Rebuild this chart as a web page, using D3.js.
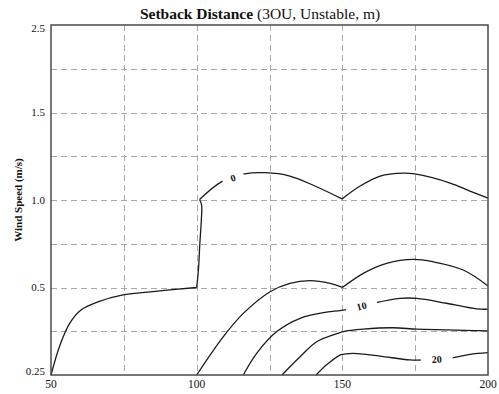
<!DOCTYPE html>
<html>
<head>
<meta charset="utf-8">
<script src="https://cdn.jsdelivr.net/npm/d3@7"></script>
<style>
  body { margin: 0; background: #fff; }
  text { font-family: "Liberation Serif", "Times New Roman", serif; fill: #111; }
</style>
</head>
<body>
<svg id="chart" width="499" height="394"></svg>
<script>
// Axis definitions
const xTicks = [50, 100, 150, 200];
const xGrid = [75, 100, 125, 150, 175];
const yTicks = [0.25, 0.5, 1.0, 1.5, 2.5];
const yTickLabels = ["0.25", "0.5", "1.0", "1.5", "2.5"];
const yGrid = [0.375, 0.5, 0.75, 1.0, 1.25, 1.5, 2.0];

// Contour lines: [distance, wind speed]
const contour0 = [
  [50, 0.25], [53.1, 0.336], [56.5, 0.399], [60.3, 0.436], [66.1, 0.459],
  [74.7, 0.479], [83.3, 0.487], [100, 0.50], [100.6, 0.60], [101.1, 0.754],
  [101.6, 0.886], [101.7, 0.971], [101.0, 1.003], [108.6, 1.105], [116.4, 1.149],
  [123.5, 1.156], [132.0, 1.137], [140.6, 1.08], [149.9, 1.006], [156.1, 1.08],
  [163.0, 1.137], [170.8, 1.154], [174.9, 1.149], [187.0, 1.097], [193.8, 1.051],
  [200, 1.011]
];
const contour5 = [
  [100, 0.25], [109.1, 0.359], [116.0, 0.426], [125.2, 0.488], [132.0, 0.524],
  [138.9, 0.539], [145.8, 0.524], [150.1, 0.501], [157.2, 0.581], [165.2, 0.638],
  [174.4, 0.661], [181.2, 0.647], [191.5, 0.600], [200, 0.509]
];
const contour10 = [
  [116.0, 0.25], [120.6, 0.312], [127.5, 0.374], [135.5, 0.412], [143.5, 0.428],
  [149.2, 0.434], [152.6, 0.438], [160.6, 0.455], [169.8, 0.469], [175.5, 0.469],
  [185.8, 0.455], [196.1, 0.439], [200, 0.438]
];
const contour15 = [
  [129.3, 0.25], [135.5, 0.302], [141.2, 0.345], [149.2, 0.371], [150.3, 0.374],
  [157.2, 0.381], [167.5, 0.385], [175.5, 0.381], [185.8, 0.379], [200, 0.376]
];
const contour20 = [
  [141.0, 0.25], [144.6, 0.279], [149.2, 0.307], [150.3, 0.309], [153.8, 0.312],
  [162.9, 0.304], [173.2, 0.293], [178.4, 0.293], [187.0, 0.298], [193.8, 0.309],
  [200, 0.314]
];
const contourLevels = [0, 5, 10, 15, 20];
const contours = [contour0, contour5, contour10, contour15, contour20];
// Indices of sharp corners along each contour
const cornerIndices = [[7, 12, 18], [7], [], [], []];

// Inline labels: contour level and the distance where it sits
const labelLevels = [0, 10, 20];
const labelDistances = [112.5, 156.6, 182.4];

const W = 499, H = 394;
const margin = { top: 25, right: 11, bottom: 19, left: 51 };
const innerW = W - margin.left - margin.right;
const innerH = H - margin.top - margin.bottom;

const svg = d3.select("#chart");

const x = d3.scaleLinear().domain([50, 200]).range([margin.left, margin.left + innerW]);
// Piecewise scale: labelled speeds are equally spaced
const y = d3.scaleLinear()
  .domain(yTicks)
  .range(yTicks.map((d, i) => margin.top + innerH - i * innerH / (yTicks.length - 1)));

// Grid
const grid = svg.append("g").attr("stroke", "#a8a8a8").attr("stroke-width", 1)
  .attr("stroke-dasharray", "6,4").attr("fill", "none");
grid.selectAll("line.gx").data(xGrid).join("line")
  .attr("x1", d => Math.round(x(d)) + 0.5).attr("x2", d => Math.round(x(d)) + 0.5)
  .attr("y1", margin.top).attr("y2", margin.top + innerH);
grid.selectAll("line.gy").data(yGrid).join("line")
  .attr("y1", d => Math.round(y(d)) + 0.5).attr("y2", d => Math.round(y(d)) + 0.5)
  .attr("x1", margin.left).attr("x2", margin.left + innerW);

// Label geometry along each labelled contour
function pointAt(pts, xv) {
  for (let i = 0; i < pts.length - 1; i++) {
    const a = pts[i], b = pts[i + 1];
    if (a[0] <= xv && b[0] >= xv) {
      const t = (xv - a[0]) / (b[0] - a[0]);
      const px = x(xv), py = y(a[1]) + t * (y(b[1]) - y(a[1]));
      const ang = Math.atan2(y(b[1]) - y(a[1]), x(b[0]) - x(a[0])) * 180 / Math.PI;
      return { px, py, ang };
    }
  }
  return null;
}
const labels = labelLevels.map((lv, i) => {
  const pts = contours[contourLevels.indexOf(lv)];
  return Object.assign({ text: String(lv) }, pointAt(pts, labelDistances[i]));
});

// Mask to open gaps in the lines under the labels
const defs = svg.append("defs");
const mask = defs.append("mask").attr("id", "labelGaps").attr("maskUnits", "userSpaceOnUse")
  .attr("x", 0).attr("y", 0).attr("width", W).attr("height", H);
mask.append("rect").attr("x", 0).attr("y", 0).attr("width", W).attr("height", H).attr("fill", "#fff");
mask.selectAll("rect.gap").data(labels).join("rect")
  .attr("x", d => -(d.text.length * 5 + 6))
  .attr("width", d => 2 * (d.text.length * 5 + 6))
  .attr("y", -7).attr("height", 14)
  .attr("fill", "#000")
  .attr("transform", d => `translate(${d.px},${d.py}) rotate(${d.ang})`);

// Contour lines: smooth pieces joined at the sharp corners
const line = d3.line().x(d => x(d[0])).y(d => y(d[1])).curve(d3.curveCatmullRom.alpha(0.5));
function contourPath(pts, i) {
  const cuts = [0, ...cornerIndices[i], pts.length - 1];
  let d = "";
  for (let k = 0; k < cuts.length - 1; k++) {
    d += line(pts.slice(cuts[k], cuts[k + 1] + 1));
  }
  return d;
}
svg.append("g").attr("mask", "url(#labelGaps)")
  .selectAll("path").data(contours).join("path")
  .attr("d", contourPath)
  .attr("fill", "none").attr("stroke", "#1a1a1a").attr("stroke-width", 1.3)
  .attr("stroke-linejoin", "round");

svg.append("g").selectAll("text").data(labels).join("text")
  .attr("transform", d => `translate(${d.px},${d.py}) rotate(${d.ang})`)
  .attr("text-anchor", "middle").attr("dy", "0.35em")
  .attr("font-size", 10).attr("font-weight", "bold")
  .text(d => d.text);

// Frame
svg.append("rect")
  .attr("x", margin.left).attr("y", margin.top).attr("width", innerW).attr("height", innerH)
  .attr("fill", "none").attr("stroke", "#4a4a4a").attr("stroke-width", 1.5);

// Tick labels
svg.append("g").selectAll("text").data(xTicks).join("text")
  .attr("x", d => x(d)).attr("y", margin.top + innerH + 13)
  .attr("text-anchor", "middle").attr("font-size", 11.5)
  .text(d => d);

svg.append("g").selectAll("text").data(yTicks).join("text")
  .attr("x", margin.left - 6)
  .attr("y", d => Math.min(Math.max(y(d), margin.top + 3), margin.top + innerH - 3.5))
  .attr("dy", "0.35em").attr("text-anchor", "end").attr("font-size", 11)
  .text((d, i) => yTickLabels[i]);

// Axis title
svg.append("text")
  .attr("transform", `translate(22,${margin.top + innerH / 2}) rotate(-90)`)
  .attr("text-anchor", "middle").attr("font-size", 11).attr("font-weight", "bold")
  .text("Wind Speed (m/s)");

// Chart title
const title = svg.append("text").attr("x", 260).attr("y", 19).attr("text-anchor", "middle").attr("font-size", 15.5);
title.append("tspan").attr("font-weight", "bold").text("Setback Distance");
title.append("tspan").text(" (3OU, Unstable, m)");
</script>
</body>
</html>
